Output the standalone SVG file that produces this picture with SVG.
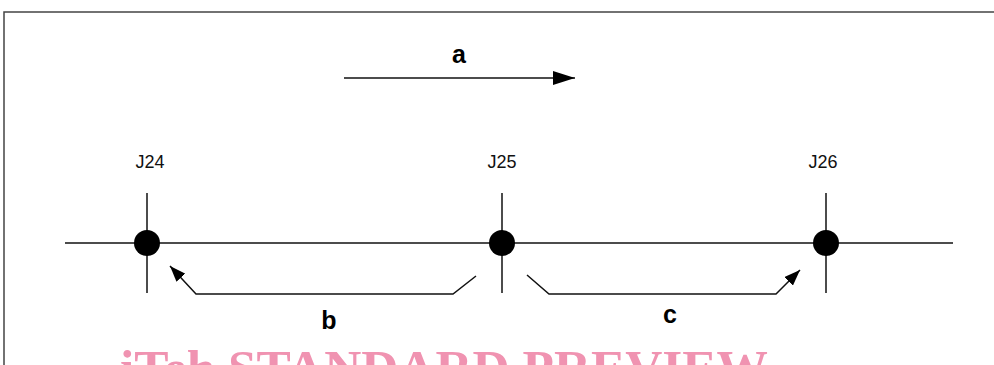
<svg xmlns="http://www.w3.org/2000/svg" width="994" height="365" viewBox="0 0 994 365">
  <style>
    .ln { stroke: #111; stroke-width: 1.5; fill: none; }
    .frame { stroke: #444; stroke-width: 1.5; fill: none; }
    .node { fill: #000; }
    .jl { font-family: "Liberation Sans", Arial, sans-serif; font-size: 18px; fill: #111; text-anchor: middle; }
    .lbl { font-family: "Liberation Sans", Arial, sans-serif; font-size: 25px; font-weight: bold; fill: #000; text-anchor: middle; }
    .wm { font-family: "Liberation Serif", "Times New Roman", serif; font-size: 50px; font-weight: bold; fill: #f093b1; }
  </style>
  <defs>
    <marker id="headBig" markerUnits="userSpaceOnUse" viewBox="0 0 22 14" markerWidth="22" markerHeight="14" refX="22" refY="7" orient="auto">
      <path d="M0,0 L22,7 L0,14 z" fill="#000"/>
    </marker>
    <marker id="head" markerUnits="userSpaceOnUse" viewBox="0 0 16 12" markerWidth="16" markerHeight="12" refX="16" refY="6" orient="auto">
      <path d="M0,0 L16,6 L0,12 z" fill="#000"/>
    </marker>
  </defs>

  <!-- outer frame -->
  <path class="frame" d="M4,365 L4,12 L994,12"/>

  <!-- flow direction -->
  <g id="flow-a">
    <line class="ln" x1="344" y1="78" x2="575" y2="78" marker-end="url(#headBig)"/>
    <text class="lbl" x="459" y="63">a</text>
  </g>

  <!-- pipe line and segment arrows -->
  <g id="connectors">
    <line class="ln" x1="65" y1="243" x2="953" y2="243"/>
    <path class="ln" d="M476,276 L453,294 L196,294 L170,266" marker-end="url(#head)"/>
    <path class="ln" d="M527,275 L549,294 L776,294 L800,270" marker-end="url(#head)"/>
  </g>

  <g id="J24">
    <line class="ln" x1="147" y1="193" x2="147" y2="293"/>
    <circle class="node" cx="147" cy="243" r="13"/>
    <text class="jl" x="150" y="168">J24</text>
  </g>
  <g id="J25">
    <line class="ln" x1="502" y1="193" x2="502" y2="293"/>
    <circle class="node" cx="502" cy="243" r="13"/>
    <text class="jl" x="502" y="168">J25</text>
  </g>
  <g id="J26">
    <line class="ln" x1="826" y1="193" x2="826" y2="293"/>
    <circle class="node" cx="826" cy="243" r="13"/>
    <text class="jl" x="823" y="168">J26</text>
  </g>

  <g id="label-b"><text class="lbl" x="329" y="329">b</text></g>
  <g id="label-c"><text class="lbl" x="670" y="323">c</text></g>

  <text class="wm" x="120" y="385" textLength="648" lengthAdjust="spacingAndGlyphs">iTeh STANDARD PREVIEW</text>
</svg>
